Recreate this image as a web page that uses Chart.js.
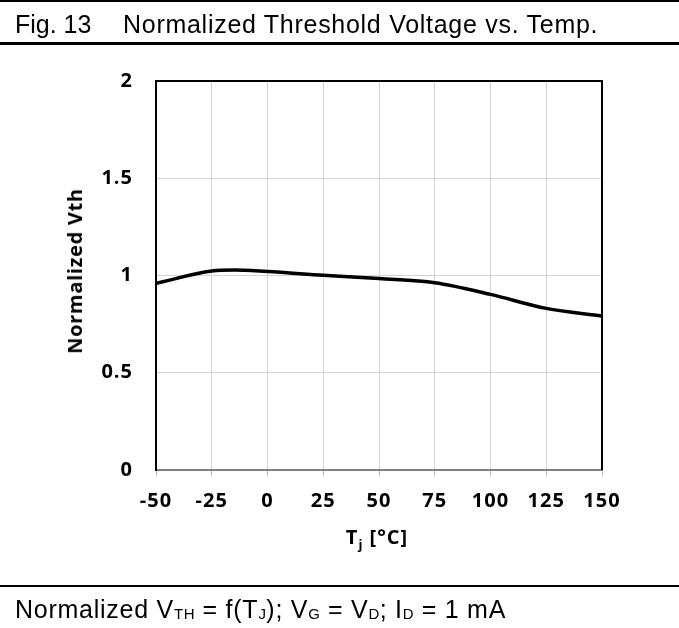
<!DOCTYPE html>
<html>
<head>
<meta charset="utf-8">
<script src="https://cdn.jsdelivr.net/npm/chart.js@4/dist/chart.umd.min.js"></script>
<style>
  html, body { margin: 0; padding: 0; background: #fff; }
  body { width: 679px; height: 628px; position: relative; overflow: hidden; }
  #plot { position: absolute; left: 0; top: 0; width: 679px; height: 628px; }
  .rule { position: absolute; left: 0; width: 679px; background: #000; }
  .hdr { position: absolute; font-family: "Liberation Sans", Arial, sans-serif; font-size: 25px; color: #000; white-space: nowrap; line-height: 1; }
  .hdr sub { font-size: 15px; vertical-align: baseline; position: relative; top: 1px; letter-spacing: 0.4px; }
  .axt { position: absolute; font-family: "Open Sans", sans-serif; font-weight: bold; font-size: 20px; color: #000; white-space: nowrap; line-height: 1; }
  .axt sub { font-size: 13px; vertical-align: baseline; position: relative; top: 5px; }
</style>
</head>
<body>
<canvas id="plot" width="679" height="628"></canvas>

<div class="rule" style="top:0;height:2px"></div>
<div class="hdr" style="left:15px;top:12px">Fig. 13</div>
<div class="hdr" style="left:123px;top:12px;letter-spacing:0.72px">Normalized Threshold Voltage vs. Temp.</div>
<div class="rule" style="top:42px;height:3px"></div>

<div class="axt" style="left:75px;top:271px;letter-spacing:0.7px;transform:translate(-50%,-50%) rotate(-90deg)">Normalized Vth</div>
<div class="axt" style="left:377px;top:537px;letter-spacing:1px;transform:translate(-50%,-50%)">T<sub>j</sub> [°C]</div>

<div class="rule" style="top:585px;height:2px"></div>
<div class="hdr" style="left:15px;top:597px;letter-spacing:0.75px">Normalized V<sub>TH</sub> = f(T<sub>J</sub>); V<sub>G</sub> = V<sub>D</sub>; I<sub>D</sub> = 1 mA</div>

<script>
// Junction temperature (°C) and normalized threshold voltage
const tempC = [-50, -25, -15, 0, 25, 50, 75, 100, 125, 150];
const vthNorm = [0.960, 1.023, 1.028, 1.020, 1.001, 0.984, 0.963, 0.903, 0.831, 0.792];

// Tick positions on each axis
const xTicks = [-50, -25, 0, 25, 50, 75, 100, 125, 150];
const yTicks = [0, 0.5, 1, 1.5, 2];

const points = tempC.map((t, i) => ({ x: t, y: vthNorm[i] }));

// Slightly tracked tick labels
const tracking = {
  id: 'tracking',
  beforeDraw(chart) { chart.ctx.letterSpacing = '1px'; }
};

// Black frame on the top, right and left sides of the plot area
const frame = {
  id: 'frame',
  afterDatasetsDraw(chart) {
    const { ctx, chartArea: a } = chart;
    ctx.save();
    ctx.strokeStyle = '#000';
    ctx.lineWidth = 2;
    ctx.beginPath();
    ctx.moveTo(a.left, a.bottom);
    ctx.lineTo(a.left, a.top);
    ctx.lineTo(a.right, a.top);
    ctx.lineTo(a.right, a.bottom);
    ctx.stroke();
    ctx.restore();
  }
};

const tickFont = { family: '"Open Sans", sans-serif', weight: 'bold', size: 20 };

new Chart(document.getElementById('plot'), {
  type: 'line',
  data: {
    datasets: [{
      data: points,
      borderColor: '#000',
      borderWidth: 3.5,
      pointRadius: 0,
      fill: false,
      cubicInterpolationMode: 'monotone'
    }]
  },
  options: {
    responsive: false,
    animation: false,
    events: [],
    layout: { padding: { left: 0, top: 81, right: 77, bottom: 0 } },
    plugins: { legend: { display: false }, tooltip: { enabled: false } },
    scales: {
      x: {
        type: 'linear',
        min: xTicks[0],
        max: xTicks[xTicks.length - 1],
        afterBuildTicks(scale) { scale.ticks = xTicks.map(v => ({ value: v })); },
        afterFit(scale) { scale.height = 628 - 470; },
        grid: { color: '#d4d4d4', lineWidth: 1, drawTicks: true, tickLength: 6, tickColor: '#bfbfbf' },
        border: { color: '#808080', width: 2 },
        ticks: { color: '#000', font: tickFont, padding: 13, maxRotation: 0 }
      },
      y: {
        min: yTicks[0],
        max: yTicks[yTicks.length - 1],
        afterBuildTicks(scale) { scale.ticks = yTicks.map(v => ({ value: v })); },
        afterFit(scale) { scale.width = 156; },
        grid: { color: '#d4d4d4', lineWidth: 1, drawTicks: false },
        border: { color: '#000', width: 2 },
        ticks: { color: '#000', font: tickFont, padding: 23, callback: v => String(v) }
      }
    }
  },
  plugins: [tracking, frame]
});
</script>
</body>
</html>
